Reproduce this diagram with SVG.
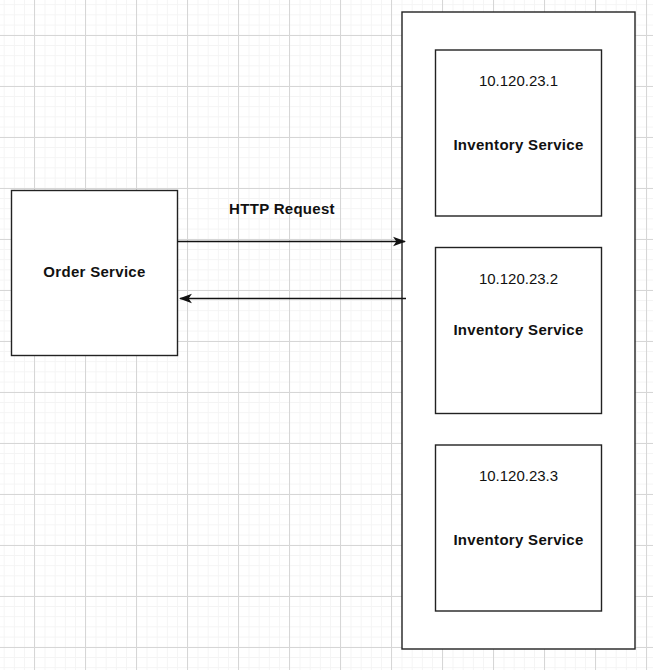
<svg xmlns="http://www.w3.org/2000/svg" width="653" height="670" viewBox="0 0 653 670">
  <style>
    .box { fill: #ffffff; stroke: #222222; stroke-width: 1.4; }
    .lbl { font-family: "Liberation Sans", Arial, sans-serif; font-size: 15px; fill: #111111; text-anchor: middle; }
    .bold { font-weight: bold; letter-spacing: 0.3px; }
    .edge { fill: none; stroke: #111111; stroke-width: 1.3; }
  </style>
  <defs>
    <pattern id="minorGrid" x="3.7" y="4.2" width="10.2" height="10.2" patternUnits="userSpaceOnUse">
      <path d="M 0 0.5 H 10.2 M 0.5 0 V 10.2" fill="none" stroke="#f4f4f4" stroke-width="1"/>
    </pattern>
    <pattern id="majorGrid" x="34" y="35" width="51" height="51" patternUnits="userSpaceOnUse">
      <path d="M 0 0.5 H 51 M 0.5 0 V 51" fill="none" stroke="#d6d6d6" stroke-width="1"/>
    </pattern>
    <marker id="arrow" viewBox="0 0 12 10" refX="11" refY="5" markerWidth="13" markerHeight="11" markerUnits="userSpaceOnUse" orient="auto">
      <path d="M 0 0.6 L 12 5 L 0 9.4 L 3 5 Z" fill="#111111"/>
    </marker>
  </defs>

  <!-- background grid -->
  <rect width="653" height="670" fill="#ffffff"/>
  <rect width="653" height="670" fill="url(#minorGrid)"/>
  <rect width="653" height="670" fill="url(#majorGrid)"/>

  <!-- caller -->
  <g id="order-service">
    <rect class="box" x="11.5" y="190.5" width="166" height="165"/>
    <text class="lbl bold" x="94.5" y="277">Order Service</text>
  </g>

  <!-- cluster of inventory instances -->
  <g id="inventory-cluster">
    <rect class="box" x="402" y="12" width="233" height="637"/>
  </g>

  <g id="inventory-1">
    <rect class="box" x="435.5" y="50" width="166" height="166"/>
    <text class="lbl" x="518.5" y="86">10.120.23.1</text>
    <text class="lbl bold" x="518.5" y="150">Inventory Service</text>
  </g>

  <g id="inventory-2">
    <rect class="box" x="435.5" y="247.5" width="166" height="166"/>
    <text class="lbl" x="518.5" y="283.5">10.120.23.2</text>
    <text class="lbl bold" x="518.5" y="334.5">Inventory Service</text>
  </g>

  <g id="inventory-3">
    <rect class="box" x="435.5" y="445" width="166" height="166"/>
    <text class="lbl" x="518.5" y="481">10.120.23.3</text>
    <text class="lbl bold" x="518.5" y="545">Inventory Service</text>
  </g>

  <!-- request / response connectors -->
  <g id="connectors">
    <line class="edge" x1="177.5" y1="241.5" x2="405" y2="241.5" marker-end="url(#arrow)"/>
    <line class="edge" x1="406" y1="298.5" x2="180" y2="298.5" marker-end="url(#arrow)"/>
    <text class="lbl bold" x="282" y="214">HTTP Request</text>
  </g>
</svg>
